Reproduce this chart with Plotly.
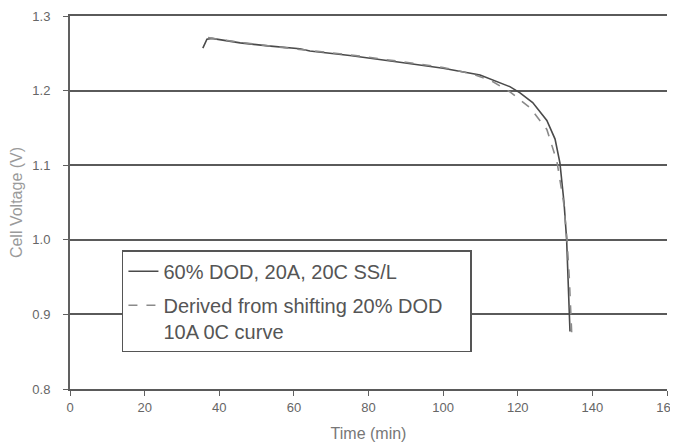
import plotly.graph_objects as go

# Solid curve: 60% DOD, 20A, 20C SS/L
t_solid = [35.6, 36.7, 38.0, 45.6, 53.0, 61.6, 64.3, 75.0, 88.4, 100.0, 109.9, 114.4,
           118.0, 120.6, 124.0, 127.8, 130.0, 131.3, 132.4, 133.1, 133.5, 133.8, 134.0]
v_solid = [1.257, 1.269, 1.270, 1.264, 1.260, 1.256, 1.253, 1.247, 1.238, 1.230, 1.221, 1.212,
           1.205, 1.197, 1.184, 1.160, 1.135, 1.103, 1.050, 1.000, 0.950, 0.900, 0.877]

# Dashed curve: derived from shifting 20% DOD 10A 0C curve
t_dash = [37.0, 45.0, 60.0, 75.0, 90.0, 100.0, 108.0, 113.0, 118.0, 123.3, 127.8,
          130.5, 132.3, 133.2, 133.8, 134.3, 134.5]
v_dash = [1.271, 1.265, 1.256, 1.248, 1.238, 1.231, 1.222, 1.213, 1.198, 1.177, 1.148,
          1.105, 1.050, 1.000, 0.950, 0.900, 0.870]

x_ticks = [0, 20, 40, 60, 80, 100, 120, 140, 160]
y_ticks = [0.8, 0.9, 1.0, 1.1, 1.2, 1.3]
y_labels = ["0.8", "0.9", "1.0", "1.1", "1.2", "1.3"]

FONT = "Liberation Sans, Arial, sans-serif"
NB = "\u00a0"

fig = go.Figure()
fig.add_trace(go.Scatter(
    x=t_solid, y=v_solid, mode="lines",
    name="60% DOD, 20A, 20C SS/L", legendgroup="a",
    line=dict(color="#4a4a4a", width=1.6)))
fig.add_trace(go.Scatter(
    x=t_dash, y=v_dash, mode="lines",
    name="Derived from shifting 20% DOD" + NB * 4 + "<br>10A 0C curve", legendgroup="b",
    line=dict(color="#8a8a8a", width=1.6, dash="dash")))

# page body has an 8px margin, so the figure is sized to fill the rest of the window
fig.update_layout(
    width=670, height=437,
    margin=dict(l=62, r=11, t=8, b=56),
    paper_bgcolor="white", plot_bgcolor="white",
    font=dict(family=FONT, color="#555555"),
    showlegend=True,
    legend=dict(
        x=0.087, y=0.372, xanchor="left", yanchor="top",
        bgcolor="white", bordercolor="#555555", borderwidth=1.5,
        font=dict(family=FONT, size=20, color="#555555"),
        tracegroupgap=5, valign="top", itemwidth=30,
    ),
    xaxis=dict(
        range=[0, 160], tickvals=x_ticks, ticktext=[str(v) for v in x_ticks],
        showgrid=False, zeroline=False, automargin=False,
        showline=True, linecolor="#5a5a5a", linewidth=2, mirror=True,
        ticks="outside", ticklen=5, tickcolor="#606060",
        tickfont=dict(size=13, color="#666666"),
        title=dict(text="Time (min)", font=dict(size=16, color="#777777"), standoff=14),
    ),
    yaxis=dict(
        range=[0.8, 1.3], tickvals=y_ticks, ticktext=y_labels,
        showgrid=True, gridcolor="#5a5a5a", gridwidth=2,
        zeroline=False, automargin=False,
        showline=True, linecolor="#606060", linewidth=2,
        ticks="outside", ticklen=5, tickcolor="#606060",
        ticklabelstandoff=10,
        tickfont=dict(size=13, color="#666666"),
        title=dict(text="Cell Voltage (V)", font=dict(size=16, color="#9a9a9a"), standoff=6),
    ),
)

fig.write_html("out.html")
